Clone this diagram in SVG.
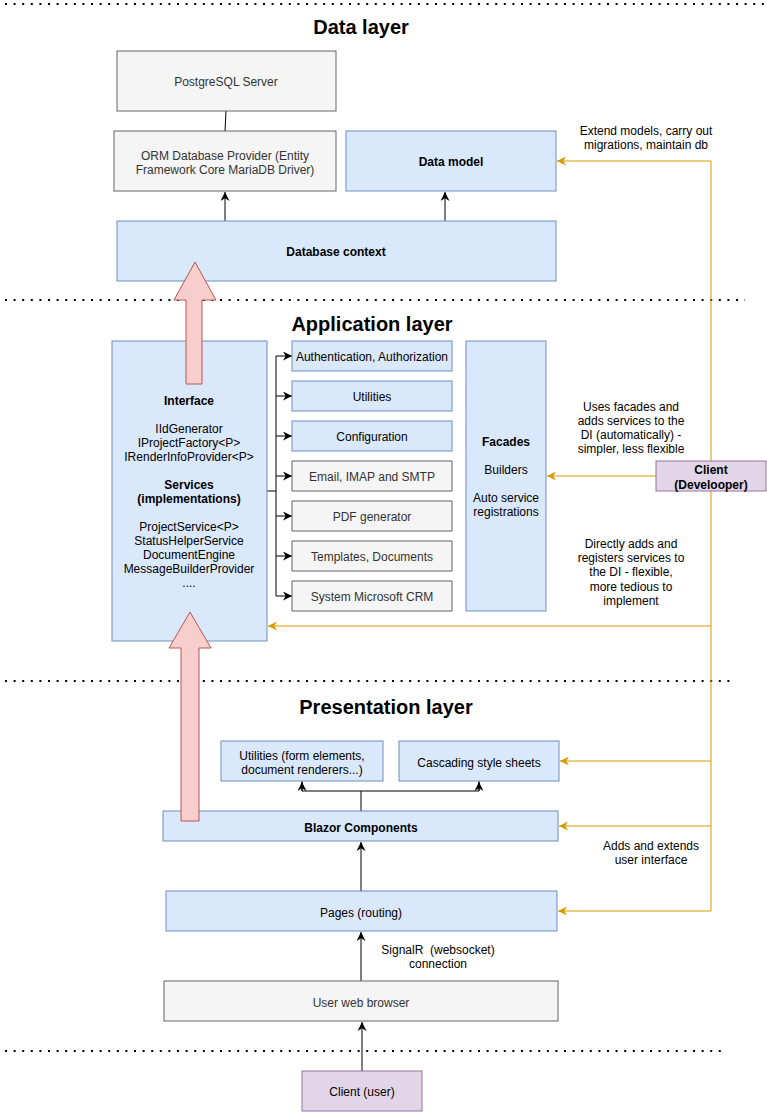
<svg xmlns="http://www.w3.org/2000/svg" width="767" height="1112" viewBox="0 0 767 1112">
<style>
text{font-family:"Liberation Sans",Arial,Helvetica,sans-serif;font-size:12px;text-anchor:middle;dominant-baseline:central;fill:#000;transform:translateY(1px)}
.t{font-size:20px;font-weight:bold}
.b{font-weight:bold}
.g text,.gt{fill:#333}
.pre{white-space:pre}
.blue{fill:#dae8fc;stroke:#6c8ebf;stroke-width:1}
.gray{fill:#f5f5f5;stroke:#666;stroke-width:1}
.purple{fill:#e1d5e7;stroke:#9673a6;stroke-width:1}
.red{fill:#f8cecc;stroke:#b85450;stroke-width:1}
.dot{stroke:#000;stroke-width:2;stroke-dasharray:2 6.6;fill:none}
.k{stroke:#000;stroke-width:1;fill:none}
.o{stroke:#d79b00;stroke-width:1;fill:none}
</style>
<defs>
<marker id="ak" viewBox="0 0 10 10" refX="10" refY="5" markerWidth="9" markerHeight="9" markerUnits="userSpaceOnUse" orient="auto"><path d="M0,0 L10,5 L0,10 L3,5 z" fill="#000"/></marker>
<marker id="ao" viewBox="0 0 10 10" refX="10" refY="5" markerWidth="9" markerHeight="9" markerUnits="userSpaceOnUse" orient="auto"><path d="M0,0 L10,5 L0,10 L3,5 z" fill="#d79b00"/></marker>
</defs>
<rect width="767" height="1112" fill="#fff"/>
<g id="separators">
<line class="dot" x1="5" y1="4" x2="767" y2="4"/>
<line class="dot" x1="5" y1="300" x2="745" y2="300"/>
<line class="dot" x1="5" y1="681" x2="731" y2="681"/>
<line class="dot" x1="5" y1="1051" x2="725" y2="1051"/>
</g>
<g id="titles">
<text class="t" x="361" y="26">Data layer</text>
<text class="t" x="372" y="323">Application layer</text>
<text class="t" x="386" y="706">Presentation layer</text>
</g>
<g id="connectors">
<line class="k" x1="226" y1="111" x2="225" y2="131"/>
<line class="k" x1="225" y1="221" x2="225" y2="192" marker-end="url(#ak)"/>
<line class="k" x1="445" y1="221" x2="445" y2="192" marker-end="url(#ak)" stroke="#333"/>
<polyline class="k" points="267,491 276,491"/>
<line class="k" x1="276" y1="356" x2="276" y2="596"/>
<line class="k" x1="276" y1="356" x2="292" y2="356" marker-end="url(#ak)"/>
<line class="k" x1="276" y1="396" x2="292" y2="396" marker-end="url(#ak)"/>
<line class="k" x1="276" y1="436" x2="292" y2="436" marker-end="url(#ak)"/>
<line class="k" x1="276" y1="476" x2="292" y2="476" marker-end="url(#ak)"/>
<line class="k" x1="276" y1="516" x2="292" y2="516" marker-end="url(#ak)"/>
<line class="k" x1="276" y1="556" x2="292" y2="556" marker-end="url(#ak)"/>
<line class="k" x1="276" y1="596" x2="292" y2="596" marker-end="url(#ak)"/>
<line class="k" x1="361" y1="811" x2="361" y2="791" stroke-width="2"/>
<polyline class="k" points="302,781 302,791 479,791 479,781"/>
<line class="k" x1="302" y1="791" x2="302" y2="782" marker-end="url(#ak)"/>
<line class="k" x1="479" y1="791" x2="479" y2="782" marker-end="url(#ak)"/>
<line class="k" x1="361" y1="891" x2="361" y2="842" marker-end="url(#ak)" stroke="#333"/>
<line class="k" x1="361" y1="981" x2="361" y2="932" marker-end="url(#ak)" stroke="#333"/>
<line class="k" x1="362" y1="1071" x2="362" y2="1022" marker-end="url(#ak)" stroke="#333"/>
<line class="o" x1="711" y1="161" x2="711" y2="911"/>
<line class="o" x1="711" y1="161" x2="557" y2="161" marker-end="url(#ao)"/>
<line class="o" x1="656" y1="476" x2="547" y2="476" marker-end="url(#ao)"/>
<line class="o" x1="711" y1="626" x2="268" y2="626" marker-end="url(#ao)"/>
<line class="o" x1="711" y1="761" x2="560" y2="761" marker-end="url(#ao)"/>
<line class="o" x1="711" y1="826" x2="559" y2="826" marker-end="url(#ao)"/>
<line class="o" x1="711" y1="911" x2="558" y2="911" marker-end="url(#ao)"/>
</g>
<g id="postgres" class="g"><rect class="gray" x="117" y="51" width="219" height="60"/><text x="226" y="81">PostgreSQL Server</text></g>
<g id="orm" class="g"><rect class="gray" x="114" y="131" width="222" height="60"/><text x="225" y="155">ORM Database Provider (Entity</text><text x="225" y="169">Framework Core MariaDB Driver)</text></g>
<g id="datamodel"><rect class="blue" x="346" y="131" width="210" height="60"/><text class="b" x="451" y="161">Data model</text></g>
<g id="dbcontext"><rect class="blue" x="117" y="221" width="439" height="60"/><text class="b" x="336" y="251">Database context</text></g>
<g id="services"><rect class="blue" x="112" y="341" width="155" height="300"/>
<text class="b" x="189" y="400">Interface</text>
<text x="189" y="428">IIdGenerator</text>
<text x="189" y="442">IProjectFactory&lt;P&gt;</text>
<text x="189" y="456">IRenderInfoProvider&lt;P&gt;</text>
<text class="b" x="189" y="484">Services</text>
<text class="b" x="189" y="498">(implementations)</text>
<text x="189" y="526">ProjectService&lt;P&gt;</text>
<text x="189" y="540">StatusHelperService</text>
<text x="189" y="554">DocumentEngine</text>
<text x="189" y="568">MessageBuilderProvider</text>
<text x="189" y="582">....</text>
</g>
<g id="auth"><rect class="blue" x="292" y="341" width="160" height="30"/><text x="372" y="356">Authentication, Authorization</text></g>
<g id="utilities"><rect class="blue" x="292" y="381" width="160" height="30"/><text x="372" y="396">Utilities</text></g>
<g id="configuration"><rect class="blue" x="292" y="421" width="160" height="30"/><text x="372" y="436">Configuration</text></g>
<g id="email" class="g"><rect class="gray" x="292" y="461" width="160" height="30"/><text x="372" y="476">Email, IMAP and SMTP</text></g>
<g id="pdf" class="g"><rect class="gray" x="292" y="501" width="160" height="30"/><text x="372" y="516">PDF generator</text></g>
<g id="templates" class="g"><rect class="gray" x="292" y="541" width="160" height="30"/><text x="372" y="556">Templates, Documents</text></g>
<g id="crm" class="g"><rect class="gray" x="292" y="581" width="160" height="30"/><text x="372" y="596">System Microsoft CRM</text></g>
<g id="facades"><rect class="blue" x="466" y="341" width="80" height="270"/>
<text class="b" x="506" y="441">Facades</text>
<text x="506" y="469">Builders</text>
<text x="506" y="497">Auto service</text>
<text x="506" y="511">registrations</text>
</g>
<g id="client-dev"><rect class="purple" x="656" y="461" width="110" height="30"/><text class="b" x="711" y="469">Client</text><text class="b" x="711" y="484">(Develooper)</text></g>
<g id="labels">
<text x="646" y="130">Extend models, carry out</text>
<text x="646" y="144">migrations, maintain db</text>
<text x="631" y="406">Uses facades and</text>
<text x="631" y="420">adds services to the</text>
<text x="631" y="434">DI (automatically) -</text>
<text x="631" y="448">simpler, less flexible</text>
<text x="631" y="543">Directly adds and</text>
<text x="631" y="557">registers services to</text>
<text x="631" y="571">the DI - flexible,</text>
<text x="631" y="586">more tedious to</text>
<text x="631" y="600">implement</text>
<text x="651" y="845">Adds and extends</text>
<text x="651" y="859">user interface</text>
<text class="pre" x="438" y="949" xml:space="preserve">SignalR  (websocket)</text>
<text x="438" y="963">connection</text>
</g>
<g id="ui-utilities"><rect class="blue" x="221" y="741" width="162" height="40"/><text x="302" y="755">Utilities (form elements,</text><text x="302" y="769">document renderers...)</text></g>
<g id="css"><rect class="blue" x="399" y="741" width="160" height="40"/><text x="479" y="762">Cascading style sheets</text></g>
<g id="blazor"><rect class="blue" x="163" y="811" width="395" height="30"/><text class="b" x="361" y="827">Blazor Components</text></g>
<g id="pages"><rect class="blue" x="166" y="891" width="391" height="40"/><text x="361" y="912">Pages (routing)</text></g>
<g id="browser" class="g"><rect class="gray" x="164" y="981" width="394" height="40"/><text x="361" y="1002">User web browser</text></g>
<g id="client-user"><rect class="purple" x="302" y="1071" width="120" height="40"/><text x="362" y="1091">Client (user)</text></g>
<g id="flow-arrows">
<path class="red" d="M195,262 L216,300 L202,300 L202,384 L186,384 L186,300 L174,300 Z"/>
<path class="red" d="M190,612 L211,648 L199,648 L199,821 L181,821 L181,648 L169,648 Z"/>
</g>
</svg>
